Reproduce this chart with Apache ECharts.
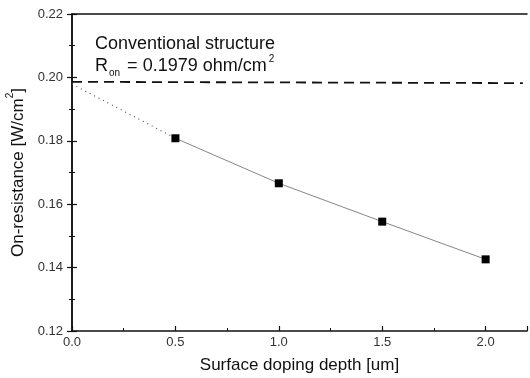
<!DOCTYPE html>
<html><head><meta charset="utf-8">
<script src="https://cdn.jsdelivr.net/npm/echarts@6/dist/echarts.min.js"></script>
<style>html,body{margin:0;padding:0;background:#fff}#c{width:530px;height:378px}</style>
</head><body><div id="c"></div>
<script>
var depth = [0.5, 1.0, 1.5, 2.0];
var resistance = [0.1808, 0.1666, 0.1545, 0.1426];
var extrapX = [0.0, 0.5];
var extrapY = [0.1979, 0.1808];
var convX = [0.0, 2.18];
var convY = [0.1986, 0.1982];
var xTicks = [0.0, 0.5, 1.0, 1.5, 2.0];
var yTicks = [0.12, 0.14, 0.16, 0.18, 0.20, 0.22];

function pairs(a, b) { return a.map(function (v, i) { return [v, b[i]]; }); }

var F = 'Liberation Sans, Arial, sans-serif';
var chart = echarts.init(document.getElementById('c'));
chart.setOption({
  animation: false,
  grid: { left: 72, right: 3, top: 14, bottom: 47, containLabel: false, outerBoundsMode: 'none' },
  xAxis: [{
    type: 'value', min: 0, max: 2.2, interval: 0.5,
    name: 'Surface doping depth [um]', nameLocation: 'middle', nameGap: 26,
    nameTextStyle: { fontFamily: F, fontSize: 17, color: '#111' },
    axisLine: { lineStyle: { color: '#111', width: 1.5 } },
    axisTick: { inside: true, length: 5, lineStyle: { color: '#111', width: 1.2 } },
    minorTick: { show: true, splitNumber: 2, length: 3, lineStyle: { color: '#111' } },
    axisLabel: { fontFamily: F, fontSize: 13, color: '#333', margin: 5,
      formatter: function (v) { return xTicks.indexOf(v) >= 0 ? v.toFixed(1) : ''; } },
    splitLine: { show: false }
  }, {
    type: 'value', position: 'top', min: 0, max: 2.2,
    axisLine: { show: true, lineStyle: { color: '#111', width: 1.5 } },
    axisTick: { show: false }, axisLabel: { show: false }, splitLine: { show: false }
  }],
  yAxis: [{
    type: 'value', min: 0.12, max: 0.22, interval: 0.02,
    name: '{a|On-resistance [W/cm}{s|2}{a|]}', nameLocation: 'middle', nameGap: 39,
    nameTextStyle: { fontFamily: F, fontSize: 17, color: '#111',
      rich: {
        a: { fontFamily: F, fontSize: 17, color: '#111', lineHeight: 22, verticalAlign: 'bottom' },
        s: { fontFamily: F, fontSize: 10, color: '#111', lineHeight: 22, verticalAlign: 'top' }
      } },
    axisLine: { show: true, lineStyle: { color: '#111', width: 1.5 } },
    axisTick: { inside: true, length: 5, lineStyle: { color: '#111', width: 1.2 } },
    minorTick: { show: true, splitNumber: 2, length: 3, lineStyle: { color: '#111' } },
    axisLabel: { fontFamily: F, fontSize: 13, color: '#333', margin: 9,
      formatter: function (v) { return v.toFixed(2); } },
    splitLine: { show: false }
  }, {
    type: 'value', position: 'right', min: 0.12, max: 0.22, interval: 0.02,
    axisLine: { show: true, lineStyle: { color: '#111', width: 1.5 } },
    axisTick: { inside: true, length: 5, lineStyle: { color: '#111', width: 1.2 } },
    minorTick: { show: true, splitNumber: 2, length: 3, lineStyle: { color: '#111' } },
    axisLabel: { show: false }, splitLine: { show: false }
  }],
  series: [{
    type: 'line', data: pairs(convX, convY), symbol: 'none',
    lineStyle: { color: '#111', width: 1.8, type: [10, 6] }
  }, {
    type: 'line', data: pairs(extrapX, extrapY), symbol: 'none',
    lineStyle: { color: '#555', width: 1.2, type: [1, 4] }
  }, {
    type: 'line', data: pairs(depth, resistance), symbol: 'rect', symbolSize: 8,
    itemStyle: { color: '#000' },
    lineStyle: { color: '#666', width: 0.8 }
  }],
  graphic: [{
    type: 'text', left: 95, top: 35,
    style: { text: 'Conventional structure', fontFamily: F, fontSize: 18, fill: '#111' }
  }, {
    type: 'text', left: 95, top: 54,
    style: {
      text: '{a|R}{s|on}{a| = 0.1979 ohm/cm}{p|2}',
      rich: {
        a: { fontFamily: F, fontSize: 18, fill: '#111', verticalAlign: 'middle', lineHeight: 24 },
        s: { fontFamily: F, fontSize: 10, fill: '#111', verticalAlign: 'bottom', lineHeight: 24, padding: [0, 2, 0, 1] },
        p: { fontFamily: F, fontSize: 10, fill: '#111', verticalAlign: 'top', lineHeight: 24, padding: [0, 0, 0, 2] }
      }
    }
  }]
});
</script></body></html>
